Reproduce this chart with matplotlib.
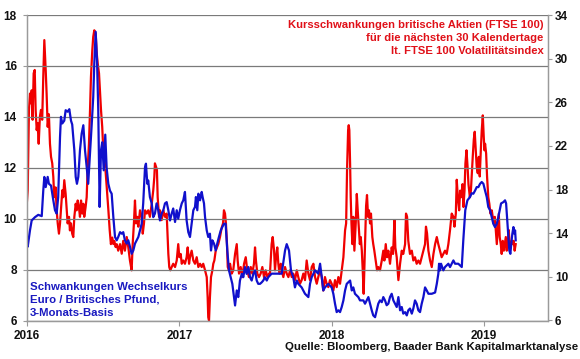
import matplotlib
matplotlib.use("Agg")
import matplotlib.pyplot as plt
from matplotlib.ticker import FixedLocator

# ---------------- data (time in decimal years) ----------------
t_fx = [0.000, 0.005, 0.020, 0.031, 0.053, 0.074, 0.097, 0.107, 0.114, 0.123, 0.136, 0.144, 0.158,
        0.173, 0.184, 0.195, 0.205, 0.217, 0.223, 0.232, 0.245, 0.254, 0.267, 0.278, 0.289, 0.297,
        0.311, 0.320, 0.328, 0.337, 0.348, 0.359, 0.370, 0.381, 0.392, 0.402, 0.414, 0.425, 0.435,
        0.442, 0.451, 0.460, 0.468, 0.477, 0.486, 0.494, 0.504, 0.514, 0.523, 0.534, 0.545, 0.556,
        0.567, 0.578, 0.589, 0.599, 0.611, 0.622, 0.632, 0.643, 0.655, 0.665, 0.676, 0.687, 0.698,
        0.709, 0.720, 0.731, 0.742, 0.753, 0.763, 0.775, 0.781, 0.790, 0.796, 0.807, 0.819, 0.829,
        0.840, 0.851, 0.862, 0.873, 0.884, 0.895, 0.906, 0.917, 0.928, 0.939, 0.950, 0.960, 0.972,
        0.983, 0.993, 1.004, 1.016, 1.026, 1.037, 1.048, 1.059, 1.070, 1.081, 1.092, 1.103, 1.109,
        1.118, 1.125, 1.136, 1.147, 1.153, 1.162, 1.169, 1.180, 1.190, 1.201, 1.208, 1.217, 1.228,
        1.239, 1.249, 1.260, 1.272, 1.282, 1.293, 1.304, 1.315, 1.326, 1.337, 1.348, 1.359, 1.366,
        1.377, 1.387, 1.398, 1.410, 1.420, 1.431, 1.442, 1.453, 1.464, 1.475, 1.486, 1.497, 1.508,
        1.518, 1.530, 1.541, 1.551, 1.562, 1.574, 1.584, 1.606, 1.628, 1.650, 1.672, 1.694, 1.705,
        1.720, 1.733, 1.748, 1.759, 1.771, 1.781, 1.803, 1.825, 1.847, 1.858, 1.869, 1.891, 1.912,
        1.924, 1.935, 1.945, 1.956, 1.978, 2.000, 2.011, 2.022, 2.033, 2.044, 2.055, 2.066, 2.077,
        2.088, 2.099, 2.109, 2.121, 2.132, 2.142, 2.153, 2.175, 2.186, 2.208, 2.219, 2.241, 2.252,
        2.263, 2.273, 2.285, 2.296, 2.306, 2.317, 2.329, 2.339, 2.350, 2.361, 2.372, 2.383, 2.394,
        2.405, 2.416, 2.427, 2.438, 2.449, 2.460, 2.470, 2.482, 2.493, 2.503, 2.514, 2.526, 2.536,
        2.547, 2.558, 2.569, 2.580, 2.591, 2.602, 2.613, 2.624, 2.635, 2.657, 2.679, 2.690, 2.700,
        2.705, 2.711, 2.718, 2.733, 2.744, 2.766, 2.777, 2.788, 2.799, 2.810, 2.831, 2.854, 2.864,
        2.871, 2.877, 2.891, 2.908, 2.919, 2.930, 2.941, 2.952, 2.963, 2.974, 2.985, 2.996, 3.007,
        3.018, 3.028, 3.040, 3.051, 3.061, 3.072, 3.084, 3.094, 3.105, 3.112, 3.127, 3.138, 3.145,
        3.151, 3.160, 3.166, 3.173, 3.179, 3.186, 3.193, 3.199, 3.204, 3.208]
fx_vol = [9.15, 8.9, 9.55, 9.93, 10.06, 10.15, 10.1, 11.1, 11.64, 11.24, 11.64, 11.37, 11.3,
          10.72, 10.33, 10.2, 10.85, 13.2, 14.0, 13.74, 13.85, 14.26, 14.2, 14.3, 13.85, 13.7,
          12.69, 11.64, 11.37, 11.64, 12.69, 13.34, 13.67, 12.69, 12.03, 11.37, 12.56, 13.7, 14.78,
          16.1, 17.34, 16.2, 14.26, 10.46, 12.69, 13.0, 11.9, 13.3, 12.0, 11.37, 11.1, 10.98,
          10.06, 9.28, 9.15, 9.28, 9.47, 9.41, 9.47, 9.15, 9.02, 9.15, 8.9, 8.62, 8.75,
          9.02, 9.15, 9.28, 9.54, 9.8, 10.6, 12.03, 12.16, 11.37, 11.5, 10.85, 10.6, 10.06,
          10.2, 10.6, 10.33, 9.93, 10.2, 10.33, 10.6, 10.65, 10.33, 9.93, 10.2, 10.4, 9.87,
          10.33, 10.0, 10.33, 10.6, 10.72, 11.05, 9.93, 9.47, 9.28, 9.8, 10.33, 10.46, 10.85,
          10.33, 10.98, 10.72, 11.05, 10.85, 10.6, 10.06, 9.54, 9.28, 9.41, 8.75, 9.15, 9.02,
          8.75, 9.02, 9.28, 9.54, 9.67, 9.8, 9.8, 8.75, 7.97, 7.7, 7.44, 6.92, 6.59,
          7.18, 6.92, 7.57, 7.83, 7.7, 8.1, 7.83, 8.1, 7.7, 7.57, 7.83, 7.97, 7.57,
          7.44, 7.44, 7.5, 7.57, 7.7, 7.57, 7.7, 7.84, 7.84, 7.84, 7.84, 8.75, 9.0,
          8.75, 7.97, 7.7, 7.3, 7.57, 7.44, 7.3, 7.05, 6.92, 7.44, 7.7, 7.97, 7.84,
          8.23, 7.7, 7.18, 7.3, 7.44, 7.3, 7.05, 6.66, 6.33, 6.4, 6.33, 6.53, 6.79,
          7.18, 7.44, 7.5, 7.57, 7.18, 7.3, 7.05, 6.92, 6.79, 6.79, 6.66, 6.92, 6.66,
          6.4, 6.2, 6.13, 6.4, 6.66, 6.79, 6.72, 6.92, 6.79, 6.6, 6.66, 6.92, 7.05,
          6.79, 6.66, 6.53, 6.92, 6.4, 6.53, 6.27, 6.33, 6.2, 6.4, 6.47, 6.27, 6.47,
          6.79, 6.66, 6.4, 6.33, 6.66, 6.92, 7.3, 7.18, 7.05, 7.05, 7.1, 7.44, 7.83,
          8.23, 7.97, 8.23, 7.97, 8.1, 8.23, 8.1, 8.23, 8.36, 8.23, 8.23, 8.1, 9.15,
          9.8, 10.33, 10.72, 10.85, 11.0, 10.98, 11.1, 11.24, 11.24, 11.37, 11.44, 11.37, 11.1,
          10.85, 10.46, 10.33, 10.06, 9.8, 9.67, 9.8, 10.06, 10.4, 10.6, 10.65, 10.72, 10.6,
          10.06, 9.28, 8.75, 8.62, 9.02, 9.41, 9.67, 9.41, 9.54, 9.15]

t_ftse = [0.000, 0.005, 0.009, 0.013, 0.020, 0.026, 0.031, 0.037, 0.044, 0.051, 0.057, 0.064, 0.070,
          0.077, 0.085, 0.092, 0.100, 0.107, 0.114, 0.123, 0.129, 0.136, 0.144, 0.151, 0.158, 0.166,
          0.173, 0.179, 0.188, 0.195, 0.202, 0.210, 0.217, 0.223, 0.232, 0.238, 0.245, 0.254, 0.261,
          0.267, 0.276, 0.282, 0.289, 0.297, 0.304, 0.311, 0.320, 0.326, 0.333, 0.341, 0.348, 0.355,
          0.363, 0.370, 0.376, 0.385, 0.392, 0.398, 0.407, 0.414, 0.420, 0.429, 0.435, 0.442, 0.451,
          0.458, 0.464, 0.473, 0.479, 0.486, 0.494, 0.501, 0.507, 0.517, 0.525, 0.535, 0.543, 0.551,
          0.560, 0.567, 0.573, 0.582, 0.589, 0.599, 0.611, 0.622, 0.632, 0.643, 0.655, 0.665, 0.676,
          0.687, 0.694, 0.702, 0.709, 0.716, 0.724, 0.731, 0.742, 0.753, 0.760, 0.768, 0.775, 0.786,
          0.796, 0.807, 0.819, 0.829, 0.836, 0.840, 0.847, 0.853, 0.858, 0.867, 0.873, 0.884, 0.895,
          0.906, 0.917, 0.928, 0.934, 0.941, 0.950, 0.960, 0.972, 0.983, 0.993, 1.000, 1.009, 1.016,
          1.026, 1.037, 1.048, 1.055, 1.064, 1.070, 1.081, 1.092, 1.103, 1.114, 1.125, 1.136, 1.147,
          1.157, 1.169, 1.180, 1.186, 1.190, 1.195, 1.201, 1.208, 1.217, 1.223, 1.230, 1.239, 1.247,
          1.256, 1.267, 1.278, 1.287, 1.293, 1.300, 1.306, 1.313, 1.318, 1.326, 1.333, 1.344, 1.354,
          1.366, 1.377, 1.383, 1.392, 1.403, 1.414, 1.425, 1.436, 1.446, 1.457, 1.469, 1.479, 1.490,
          1.497, 1.503, 1.512, 1.523, 1.534, 1.545, 1.556, 1.567, 1.578, 1.589, 1.595, 1.606, 1.613,
          1.622, 1.628, 1.635, 1.643, 1.650, 1.657, 1.666, 1.672, 1.683, 1.694, 1.705, 1.716, 1.727,
          1.738, 1.748, 1.759, 1.771, 1.781, 1.792, 1.803, 1.814, 1.825, 1.836, 1.847, 1.858, 1.869,
          1.880, 1.891, 1.902, 1.912, 1.924, 1.935, 1.945, 1.956, 1.967, 1.978, 1.989, 2.000, 2.011,
          2.022, 2.033, 2.044, 2.055, 2.066, 2.077, 2.088, 2.095, 2.101, 2.108, 2.112, 2.116, 2.121,
          2.125, 2.130, 2.136, 2.142, 2.149, 2.158, 2.165, 2.171, 2.178, 2.185, 2.191, 2.198, 2.204,
          2.210, 2.219, 2.226, 2.232, 2.239, 2.245, 2.252, 2.258, 2.267, 2.273, 2.280, 2.289, 2.298,
          2.306, 2.317, 2.329, 2.339, 2.346, 2.355, 2.363, 2.372, 2.383, 2.394, 2.403, 2.412, 2.418,
          2.427, 2.438, 2.449, 2.460, 2.470, 2.482, 2.488, 2.495, 2.503, 2.514, 2.526, 2.536, 2.547,
          2.558, 2.569, 2.580, 2.591, 2.602, 2.613, 2.619, 2.626, 2.635, 2.646, 2.657, 2.668, 2.679,
          2.690, 2.700, 2.711, 2.722, 2.733, 2.744, 2.755, 2.766, 2.777, 2.788, 2.799, 2.806, 2.815,
          2.821, 2.828, 2.837, 2.843, 2.850, 2.859, 2.865, 2.872, 2.878, 2.885, 2.892, 2.898, 2.907,
          2.914, 2.919, 2.926, 2.933, 2.939, 2.946, 2.952, 2.959, 2.966, 2.972, 2.979, 2.985, 2.992,
          2.998, 3.003, 3.007, 3.014, 3.020, 3.028, 3.035, 3.042, 3.051, 3.057, 3.064, 3.071, 3.077,
          3.084, 3.090, 3.097, 3.103, 3.110, 3.116, 3.123, 3.130, 3.136, 3.143, 3.149, 3.156, 3.162,
          3.169, 3.175, 3.182, 3.189, 3.195, 3.201, 3.208]
ftse_vol = [16.9, 17.9, 21.6, 25.3, 26.8, 25.9, 27.1, 24.4, 28.65, 28.96, 25.3, 23.45, 24.1,
            22.2, 24.7, 25.3, 24.4, 28.3, 31.7, 28.96, 26.8, 23.75, 24.9, 22.2, 21.0, 20.4,
            19.16, 17.3, 18.2, 16.1, 14.9, 13.96, 14.9, 16.1, 17.94, 17.3, 18.86, 17.6, 16.1,
            14.9, 15.5, 14.26, 14.9, 13.96, 13.65, 15.5, 16.7, 16.1, 17.0, 16.4, 15.5, 17.0,
            15.8, 16.7, 15.5, 16.4, 17.3, 19.77, 22.2, 25.3, 28.3, 30.8, 32.0, 32.6, 32.3,
            30.5, 29.6, 28.65, 27.1, 25.3, 23.75, 21.6, 21.0, 19.5, 18.0, 16.0, 14.3, 13.0,
            13.6, 13.0, 13.3, 12.73, 13.0, 12.4, 13.0, 12.12, 13.3, 12.4, 13.65, 12.73, 11.5,
            10.6, 13.0, 14.9, 17.0, 14.9, 15.5, 14.6, 16.1, 15.5, 13.96, 14.9, 16.1, 15.8,
            16.1, 15.5, 16.7, 17.94, 19.16, 20.4, 20.1, 19.8, 17.3, 15.5, 16.1, 15.2, 16.1,
            15.5, 15.8, 12.1, 10.9, 10.6, 10.9, 11.2, 10.9, 11.5, 13.0, 11.8, 12.1, 11.2,
            11.5, 11.2, 11.8, 12.7, 11.2, 11.8, 12.4, 11.5, 11.2, 11.8, 10.9, 11.2, 10.9,
            11.2, 10.6, 9.98, 8.14, 6.3, 6.0, 8.14, 9.98, 10.6, 11.2, 11.5, 12.4, 12.7,
            13.0, 13.65, 14.5, 14.9, 16.1, 15.8, 14.9, 13.0, 10.9, 10.6, 11.2, 10.3, 10.6,
            12.1, 13.0, 11.5, 10.3, 10.9, 9.98, 11.2, 11.8, 10.6, 9.98, 10.9, 10.3, 11.2,
            12.7, 11.5, 10.3, 9.98, 10.3, 10.9, 9.98, 10.6, 9.98, 10.3, 10.3, 13.0, 13.65,
            12.4, 10.6, 11.8, 12.7, 11.2, 10.3, 11.2, 10.6, 9.98, 10.9, 10.3, 9.98, 10.6,
            9.98, 10.3, 9.7, 10.6, 9.98, 9.37, 9.7, 10.3, 9.7, 11.5, 10.3, 9.7, 10.9,
            11.2, 9.98, 9.37, 9.98, 10.6, 9.98, 8.75, 9.98, 9.37, 9.06, 9.7, 9.37, 8.75,
            9.7, 9.06, 9.98, 9.37, 10.6, 11.8, 14.26, 14.9, 19.77, 23.45, 23.9, 23.45, 20.4,
            17.3, 14.9, 13.0, 15.5, 12.4, 14.9, 17.6, 16.1, 14.6, 13.0, 13.65, 12.4, 10.6,
            8.45, 13.0, 16.5, 17.5, 15.5, 16.1, 14.9, 15.8, 13.65, 13.0, 12.4, 11.5, 10.6,
            10.9, 10.6, 11.5, 12.4, 11.5, 13.0, 11.8, 12.4, 11.2, 12.7, 12.1, 15.2, 12.7,
            11.8, 9.7, 11.2, 12.4, 12.1, 13.0, 15.8, 15.5, 13.3, 12.1, 12.4, 11.5, 11.8,
            11.2, 11.5, 11.2, 11.8, 12.4, 13.0, 14.6, 14.0, 12.4, 11.5, 10.9, 12.1, 13.0,
            13.65, 13.0, 12.4, 11.8, 12.1, 12.4, 12.1, 13.0, 14.3, 15.8, 15.5, 14.6, 15.8,
            18.9, 17.3, 16.1, 17.9, 17.3, 18.5, 16.4, 17.9, 20.4, 21.6, 20.1, 18.5, 17.3,
            17.9, 19.2, 21.0, 22.6, 23.3, 21.6, 20.1, 19.5, 21.0, 19.2, 21.6, 23.4, 24.8,
            22.9, 21.6, 22.2, 21.3, 19.2, 17.3, 16.7, 15.8, 16.1, 15.5, 14.9, 15.5, 14.3,
            13.0, 14.3, 15.8, 13.65, 13.0, 12.1, 13.3, 12.4, 13.0, 13.65, 12.4, 13.0, 14.3,
            13.0, 12.7, 13.3, 13.0, 13.3, 12.4, 13.0]

base_year = 2016
year_ticks = [2016, 2017, 2018, 2019]
left_ticks = [6, 8, 10, 12, 14, 16, 18]
right_ticks = [6, 10, 14, 18, 22, 26, 30, 34]

label_ftse = ["Kursschwankungen britische Aktien (FTSE 100)",
              "für die nächsten 30 Kalendertage",
              "lt. FTSE 100 Volatilitätsindex"]
label_fx = ["Schwankungen Wechselkurs",
            "Euro / Britisches Pfund,",
            "3-Monats-Basis"]
source = "Quelle: Bloomberg, Baader Bank Kapitalmarktanalyse"

# ---------------- figure ----------------
plt.rcParams['font.family'] = ['Liberation Sans', 'DejaVu Sans']
plt.rcParams['font.weight'] = 'bold'

W, H = 580, 359
fig = plt.figure(figsize=(W / 100, H / 100), dpi=100)
ax = fig.add_axes([26.5 / W, 1 - 320.5 / H, (548 - 26.5) / W, (320.5 - 15) / H])
ax2 = ax.twinx()

RED = '#F00000'
BLUE = '#1010CC'
GRID = '#7a7a7a'
SPINE = '#9a9a9a'

tx_fx = [base_year + v for v in t_fx]
tx_ftse = [base_year + v for v in t_ftse]

ax2.plot(tx_ftse, ftse_vol, color=RED, lw=1.6, solid_joinstyle='round')
ax.plot(tx_fx, fx_vol, color=BLUE, lw=1.6, solid_joinstyle='round')

# blue drawn above red
ax.set_zorder(ax2.get_zorder() + 1)
ax.patch.set_visible(False)

ax.set_xlim(2015.997, 2019.42)
ax.set_ylim(6, 18)
ax2.set_ylim(6, 34)

ax.yaxis.set_major_locator(FixedLocator(left_ticks))
ax2.yaxis.set_major_locator(FixedLocator(right_ticks))
ax.xaxis.set_major_locator(FixedLocator(year_ticks))
ax.set_xticklabels([str(y) for y in year_ticks])

ax.grid(axis='y', color=GRID, lw=0.9)
ax.set_axisbelow(True)

for a in (ax, ax2):
    for s in ('left', 'right', 'bottom', 'top'):
        a.spines[s].set_color(SPINE)
        a.spines[s].set_linewidth(0.9)
    a.spines['top'].set_visible(False)

ax.tick_params(axis='y', direction='out', length=2.8, width=0.8, color=SPINE,
               pad=4.2, labelsize=8.5, labelcolor='#111111')
ax2.tick_params(axis='y', direction='out', length=3.2, width=0.8, color=SPINE,
                pad=1.8, labelsize=8.5, labelcolor='#111111')
ax.tick_params(axis='x', direction='out', length=3.6, width=0.8, color=SPINE,
               pad=3.0, labelsize=8.5, labelcolor='#111111')
for lab in ax.get_xticklabels() + ax.get_yticklabels() + ax2.get_yticklabels():
    lab.set_fontweight('bold')

# annotations
red_y = [25, 37.7, 50.7]
for s, yy in zip(label_ftse, red_y):
    fig.text(543.5 / W, 1 - yy / H, s, color='#E01018', fontsize=8.1,
             fontweight='bold', ha='right', va='center')
blue_y = [287.3, 300, 312.7]
for s, yy in zip(label_fx, blue_y):
    fig.text(30 / W, 1 - yy / H, s, color='#1A1AC0', fontsize=8.2,
             fontweight='bold', ha='left', va='center')
fig.text(578 / W, 1 - 346.7 / H, source, color='#111111', fontsize=8.2,
         fontweight='bold', ha='right', va='center')

fig.savefig('out.png', dpi=100)
